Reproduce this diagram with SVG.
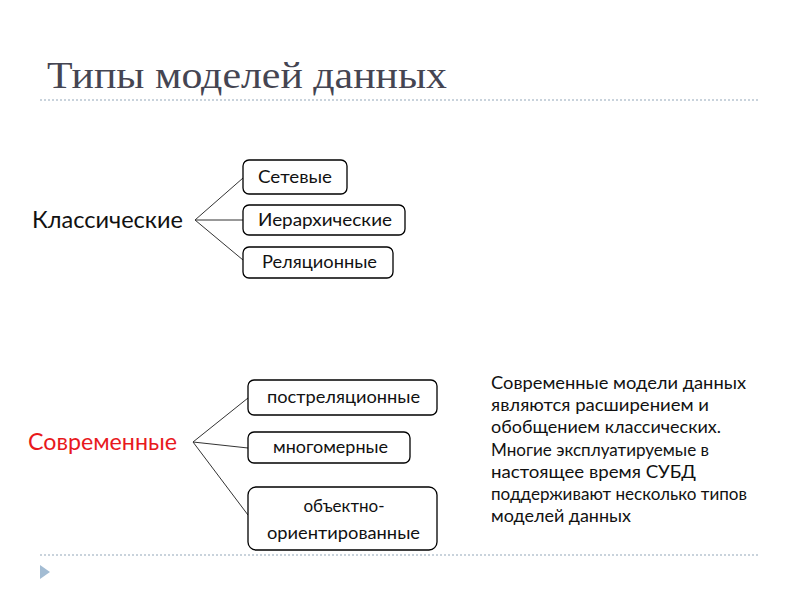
<svg xmlns="http://www.w3.org/2000/svg" width="800" height="600" viewBox="0 0 800 600">
<style>
.box{fill:#fff;stroke:#000;stroke-width:1.3}
.bt{font-family:Lato,"Open Sans",sans-serif;font-size:17px;fill:#111}
.hd{font-family:Lato,"Open Sans",sans-serif;font-size:23px}
.ln{stroke:#333;stroke-width:1;fill:none}
.dot{stroke:#c9d3dc;stroke-width:2;stroke-dasharray:2,2}
.para{font-family:Lato,"Open Sans",sans-serif;font-size:17px;fill:#111}
</style>
<rect width="800" height="600" fill="#fff"/>
<text x="47" y="88" font-family="Liberation Serif,serif" font-size="38" fill="#454552" textLength="400" lengthAdjust="spacingAndGlyphs">Типы моделей данных</text>
<line class="dot" x1="40" y1="100" x2="760" y2="100"/>
<line class="dot" x1="40" y1="555" x2="760" y2="555"/>
<polygon points="40,565 50,572 40,579" fill="#a3bcd3"/>
<g id="connectors">
<path class="ln" d="M195,220 L243,178 M195,220 L243,220 M195,220 L243,260"/>
<path class="ln" d="M193,442 L248,398 M193,442 L248,448 M193,442 L248,515"/>
</g>
<g id="classic"><text class="hd" x="32" y="228" fill="#111" textLength="151" lengthAdjust="spacingAndGlyphs">Классические</text></g>
<g id="modern"><text class="hd" x="28" y="450" fill="#e8191d" textLength="149" lengthAdjust="spacingAndGlyphs">Современные</text></g>
<g id="n1"><rect class="box" x="243" y="160" width="104" height="34" rx="6"/><text class="bt" x="258" y="183" textLength="74" lengthAdjust="spacingAndGlyphs">Сетевые</text></g>
<g id="n2"><rect class="box" x="243" y="205" width="162" height="30" rx="6"/><text class="bt" x="258" y="226" textLength="134" lengthAdjust="spacingAndGlyphs">Иерархические</text></g>
<g id="n3"><rect class="box" x="243" y="247" width="150" height="31" rx="6"/><text class="bt" x="262" y="268" textLength="115" lengthAdjust="spacingAndGlyphs">Реляционные</text></g>
<g id="n4"><rect class="box" x="248" y="380" width="189" height="35" rx="6"/><text class="bt" x="267" y="403" textLength="153" lengthAdjust="spacingAndGlyphs">постреляционные</text></g>
<g id="n5"><rect class="box" x="248" y="432" width="162" height="31" rx="6"/><text class="bt" x="273" y="453" textLength="115" lengthAdjust="spacingAndGlyphs">многомерные</text></g>
<g id="n6"><rect class="box" x="248" y="487" width="189" height="63" rx="8"/><text class="bt" x="344" y="512" text-anchor="middle">объектно-</text><text class="bt" x="267" y="539" textLength="153" lengthAdjust="spacingAndGlyphs">ориентированные</text></g>
<g id="note"><text class="para" x="491" y="389" textLength="255" lengthAdjust="spacingAndGlyphs">Современные модели данных</text>
<text class="para" x="491" y="411" textLength="218" lengthAdjust="spacingAndGlyphs">являются расширением и</text>
<text class="para" x="491" y="433" textLength="230" lengthAdjust="spacingAndGlyphs">обобщением классических.</text>
<text class="para" x="491" y="456" textLength="218" lengthAdjust="spacingAndGlyphs">Многие эксплуатируемые в</text>
<text class="para" x="491" y="478" textLength="205" lengthAdjust="spacingAndGlyphs">настоящее время СУБД</text>
<text class="para" x="491" y="500" textLength="256" lengthAdjust="spacingAndGlyphs">поддерживают несколько типов</text>
<text class="para" x="491" y="522" textLength="140" lengthAdjust="spacingAndGlyphs">моделей данных</text></g>
</svg>
